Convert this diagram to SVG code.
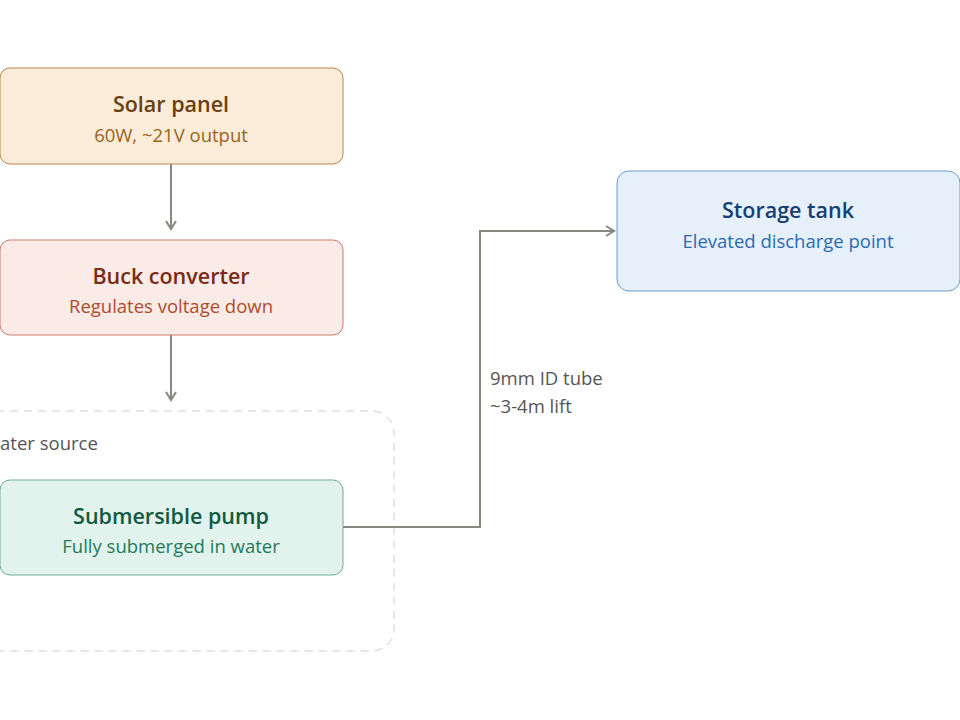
<svg xmlns="http://www.w3.org/2000/svg" width="960" height="720" viewBox="0 0 960 720">
<style>
text{font-family:"Open Sans","Noto Sans","Liberation Sans",sans-serif;text-anchor:middle}
.t{font-size:21.5px;font-weight:600}
.s{font-size:18.5px}
.l{text-anchor:start;font-size:18.5px}
.c{fill:none;stroke:#888880;stroke-width:2}
</style>
<defs><marker id="a" markerWidth="12" markerHeight="12" refX="10" refY="6" orient="auto" markerUnits="userSpaceOnUse"><path d="M2,1 L10,6 L2,11" fill="none" stroke="#888880" stroke-width="2"/></marker></defs>
<rect width="960" height="720" fill="#fff"/>
<g id="water-source"><rect x="-40" y="411" width="434" height="240" rx="22" fill="none" stroke="#cfcfcf" stroke-dasharray="8 6"/><text class="l" x="-17" y="450" fill="#555">Water source</text></g>
<g id="connectors">
<line class="c" x1="171" y1="164" x2="171" y2="229" marker-end="url(#a)"/>
<line class="c" x1="171" y1="335" x2="171" y2="400" marker-end="url(#a)"/>
<polyline class="c" points="343,527 480,527 480,231 614,231" marker-end="url(#a)"/>
<text class="l" x="490" y="385" fill="#555">9mm ID tube</text>
<text class="l" x="490" y="413" fill="#555">~3-4m lift</text>
</g>
<g id="solar"><rect x="0" y="68" width="343" height="96" rx="10" fill="#faecd9" stroke="#b8864a"/><text class="t" x="171" y="112" fill="#6b3e10">Solar panel</text><text class="s" x="171" y="142" fill="#9a6420">60W, ~21V output</text></g>
<g id="buck"><rect x="0" y="240" width="343" height="95" rx="10" fill="#faebe6" stroke="#cc7a66"/><text class="t" x="171" y="284" fill="#7a2a16">Buck converter</text><text class="s" x="171" y="313" fill="#b04a30">Regulates voltage down</text></g>
<g id="pump"><rect x="0" y="480" width="343" height="95" rx="10" fill="#e1f3ec" stroke="#6fae98"/><text class="t" x="171" y="524" fill="#0f5a40">Submersible pump</text><text class="s" x="171" y="553" fill="#1f7a5a">Fully submerged in water</text></g>
<g id="tank"><rect x="617" y="171" width="343" height="120" rx="12" fill="#e6f0fa" stroke="#6a9ad0"/><text class="t" x="788" y="218" fill="#153f75">Storage tank</text><text class="s" x="788" y="248" fill="#2a6ab0">Elevated discharge point</text></g>
</svg>
